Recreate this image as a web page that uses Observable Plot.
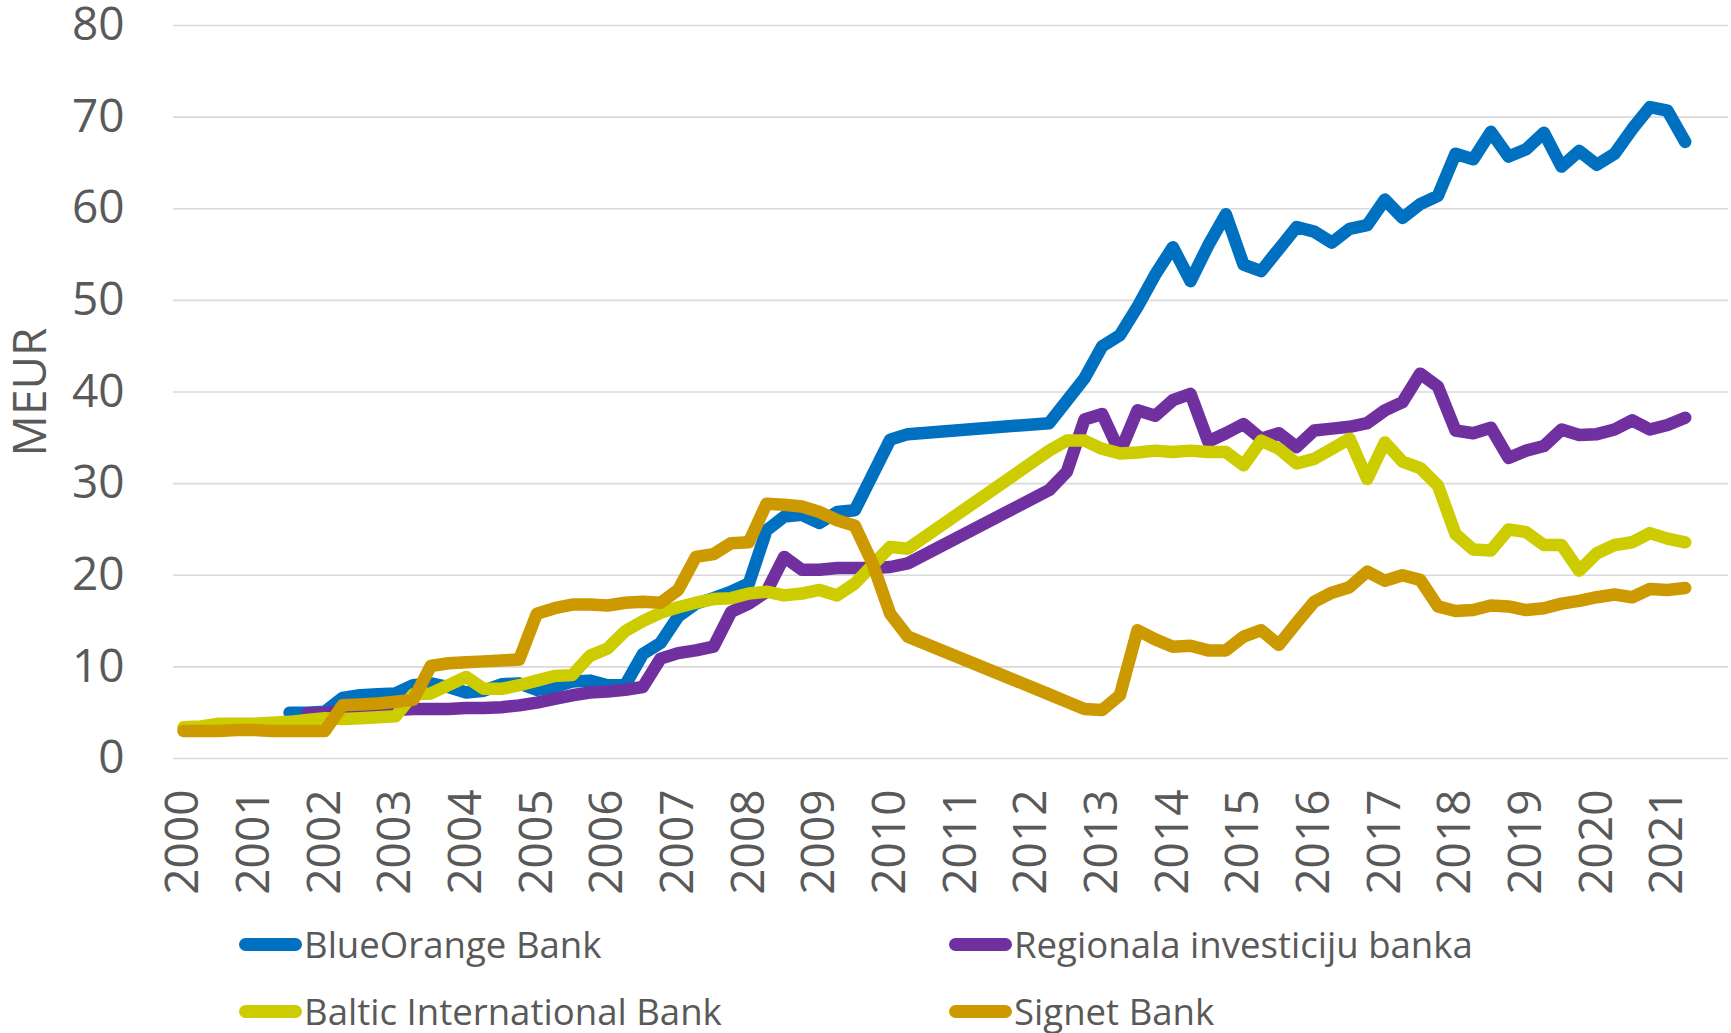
<!DOCTYPE html>
<html>
<head>
<meta charset="utf-8">
<script src="https://cdn.jsdelivr.net/npm/d3@7"></script>
<script src="https://cdn.jsdelivr.net/npm/@observablehq/plot@0.6"></script>
<style>
  html, body { margin: 0; padding: 0; background: #ffffff; }
  #wrap { position: relative; width: 1731px; height: 1033px; font-family: "Open Sans", sans-serif; color: #595959; }
  #legend { position: relative; width: 1731px; height: 128px; }
  .item { position: absolute; display: flex; align-items: center; font-size: 36.6px; line-height: 1; white-space: nowrap; }
  .sw { width: 63px; height: 13px; border-radius: 7px; margin-right: 2px; }
</style>
</head>
<body>
<div id="wrap">
  <div id="chart"></div>
  <div id="legend"></div>
</div>
<script>
// ---- Data (quarterly, index 0 = 2000 Q1 ... 85 = 2021 Q2; null = no point) ----
const seriesNames = ["BlueOrange Bank", "Regionala investiciju banka", "Baltic International Bank", "Signet Bank"];
const seriesColors = ["#0070C0", "#7030A0", "#CCCC00", "#CC9900"];
const yearLabels = ["2000","2001","2002","2003","2004","2005","2006","2007","2008","2009","2010",
                    "2011","2012","2013","2014","2015","2016","2017","2018","2019","2020","2021"];
const yTicks = [0, 10, 20, 30, 40, 50, 60, 70, 80];

const blueOrange = [
  null, null, null, null, null, null, 5.0, 5.0,            // 2000-2001
  5.1, 6.6, 6.9, 7.0, 7.1, 8.0, 8.2, 7.8,                  // 2002-2003
  7.2, 7.4, 8.1, 8.2, 7.5, 7.8, 8.4, 8.5,                  // 2004-2005
  8.0, 8.0, 11.4, 12.6, 15.5, 16.9, 17.5, 18.2,            // 2006-2007
  19.1, 24.9, 26.4, 26.6, 25.7, 26.9, 27.1, null,          // 2008-2009
  34.8, 35.4, null, null, null, null, null, null,          // 2010-2011
  null, 36.6, null, 41.5, 45.0, 46.2, 49.3, 52.8,          // 2012-2013
  55.8, 52.1, 56.0, 59.4, 53.9, 53.2, 55.6, 58.0,          // 2014-2015
  57.5, 56.3, 57.8, 58.2, 61.0, 59.0, 60.5, 61.4,          // 2016-2017
  66.0, 65.4, 68.4, 65.7, 66.5, 68.3, 64.6, 66.3,          // 2018-2019
  64.8, 66.0, 68.7, 71.1, 70.7, 67.3                       // 2020-2021
];
const regionala = [
  null, null, null, null, null, null, null, 4.9,
  5.0, 5.2, 5.2, 5.3, 5.3, 5.4, 5.4, 5.4,
  5.5, 5.5, 5.6, 5.8, 6.1, 6.5, 6.9, 7.2,
  7.3, 7.5, 7.8, 10.9, 11.5, 11.8, 12.2, 16.0,
  16.9, 18.2, 22.0, 20.6, 20.6, 20.8, 20.8, 20.8,
  20.9, 21.3, null, null, null, null, null, null,
  null, 29.3, 31.3, 37.0, 37.6, 33.4, 38.0, 37.4,
  39.1, 39.8, 34.6, 35.5, 36.5, 34.9, 35.5, 34.0,
  35.8, 36.0, 36.2, 36.6, 38.0, 38.9, 42.0, 40.6,
  35.8, 35.5, 36.1, 32.8, 33.6, 34.1, 35.9, 35.3,
  35.4, 35.9, 36.9, 35.9, 36.4, 37.2
];
const baltic = [
  3.4, 3.5, 3.8, 3.8, 3.8, 3.9, 4.0, 4.2,
  4.4, 4.3, 4.4, 4.5, 4.6, 7.0, 7.1, 8.0,
  8.9, 7.6, 7.6, 8.0, 8.5, 9.0, 9.1, 11.2,
  12.0, 13.9, 15.0, 15.9, 16.5, 17.0, 17.4, 17.5,
  18.0, 18.2, 17.8, 18.0, 18.4, 17.8, 19.1, 21.1,
  23.1, 22.9, null, null, null, null, null, null,
  null, 33.6, 34.7, 34.7, 33.8, 33.3, 33.4, 33.6,
  33.45, 33.6, 33.45, 33.45, 32.0, 34.7, 33.8, 32.2,
  32.7, 33.8, 34.9, 30.5, 34.5, 32.4, 31.7, 29.8,
  24.5, 22.8, 22.7, 25.0, 24.7, 23.3, 23.3, 20.5,
  22.4, 23.3, 23.6, 24.6, 24.0, 23.6
];
const signet = [
  3.0, 3.0, 3.0, 3.1, 3.1, 3.0, 3.0, 3.0,
  3.0, 5.8, 5.9, 6.0, 6.2, 6.4, 10.1, 10.4,
  10.5, 10.6, 10.7, 10.8, 15.8, 16.4, 16.8, 16.8,
  16.7, 17.0, 17.1, 17.0, 18.4, 22.0, 22.3, 23.5,
  23.6, 27.8, 27.7, 27.5, 26.9, 26.0, 25.4, 21.3,
  15.8, 13.3, null, null, null, null, null, null,
  null, 7.0, 6.2, 5.4, 5.3, 6.9, 14.0, 13.0,
  12.2, 12.3, 11.8, 11.8, 13.3, 14.0, 12.4, 14.8,
  17.1, 18.1, 18.7, 20.4, 19.4, 20.0, 19.5, 16.6,
  16.1, 16.2, 16.7, 16.6, 16.2, 16.4, 16.9, 17.2,
  17.6, 17.9, 17.6, 18.5, 18.4, 18.6
];
const seriesValues = [blueOrange, regionala, baltic, signet];

// ---- Build tidy rows (points without data are skipped; line connects across them) ----
function rows(values, name) {
  const out = [];
  values.forEach((v, i) => { if (v != null) out.push({x: 2000 + i / 4, v, series: name}); });
  return out;
}
const yearTicks = yearLabels.map(Number);

const lineMarks = seriesNames.map((name, k) =>
  Plot.line(rows(seriesValues[k], name), {
    x: "x", y: "v", stroke: seriesColors[k], strokeWidth: 12.5,
    strokeLinejoin: "round", strokeLinecap: "round"
  })
);

const chart = Plot.plot({
  width: 1731,
  height: 905,
  marginLeft: 173,
  marginRight: 3,
  marginTop: 25,
  marginBottom: 147,
  style: { fontFamily: "'Open Sans', sans-serif", color: "#595959", background: "#ffffff", overflow: "visible" },
  x: { type: "linear", domain: [1999.8585, 2021.8627] },
  y: { domain: [0, 80] },
  marks: [
    Plot.gridY(yTicks, { stroke: "#D9D9D9", strokeOpacity: 1, strokeWidth: 1.6 }),
    Plot.axisY(yTicks, { tickSize: 0, tickPadding: 49, fontSize: 46, fill: "#595959", label: null }),
    Plot.axisX(yearTicks, { tickSize: 0, tickPadding: 31, tickRotate: -90, fontSize: 46, fill: "#595959",
      tickFormat: d => yearLabels[yearTicks.indexOf(d)], label: null }),
    Plot.text(["MEUR"], { frameAnchor: "left", textAnchor: "middle", dx: -142, rotate: -90,
      fontSize: 46, fill: "#595959", text: d => d }),
    ...lineMarks
  ]
});
document.getElementById("chart").appendChild(chart);

// ---- Legend (HTML below the SVG) ----
const legendPos = [
  { left: 239, top: 39 }, { left: 949, top: 39 },
  { left: 239, top: 106 }, { left: 949, top: 106 }
];
const legend = document.getElementById("legend");
seriesNames.forEach((name, k) => {
  const item = document.createElement("div");
  item.className = "item";
  item.style.left = legendPos[k].left + "px";
  item.style.top = (legendPos[k].top - 20) + "px";
  item.style.height = "40px";
  const sw = document.createElement("div");
  sw.className = "sw";
  sw.style.background = seriesColors[k];
  const tx = document.createElement("span");
  tx.textContent = name;
  item.appendChild(sw);
  item.appendChild(tx);
  legend.appendChild(item);
});
</script>
</body>
</html>
